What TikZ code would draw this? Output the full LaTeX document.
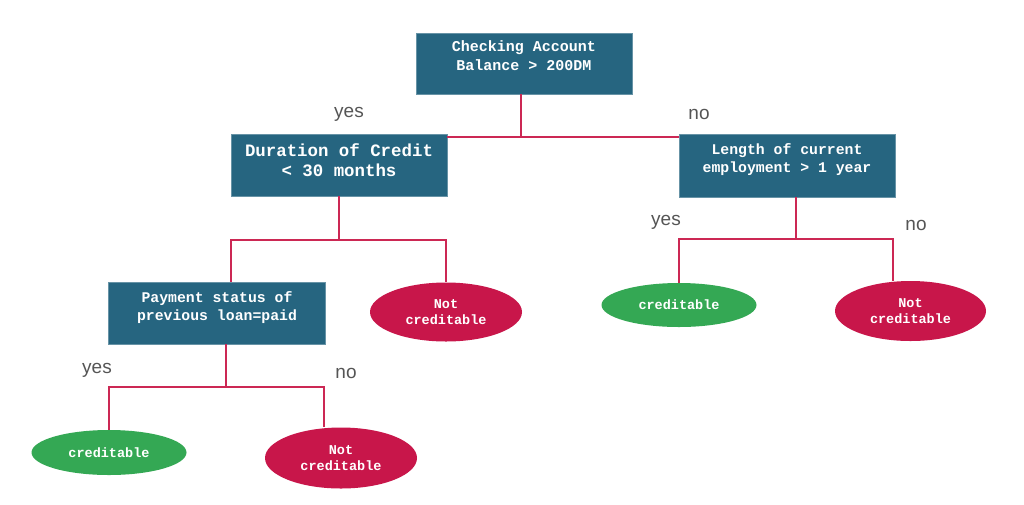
\documentclass[tikz,border=0pt]{standalone}
\usepackage{fontspec}
\setmainfont{Liberation Sans}
\setmonofont{Liberation Mono}
\usetikzlibrary{shapes.geometric}
\definecolor{boxteal}{RGB}{38,101,128}
\definecolor{leafred}{RGB}{200,22,74}
\definecolor{linered}{RGB}{204,40,84}
\definecolor{leafgreen}{RGB}{52,168,84}
\definecolor{labelgray}{RGB}{85,85,85}
\newcommand{\liftlines}[2]{\raisebox{#1}[\height][\depth]{\begin{tabular}{@{}c@{}}#2\end{tabular}}}
\tikzset{
  decision/.style={rectangle, fill=boxteal, draw=boxteal!70!white, line width=0.6pt, text=white, align=center, inner sep=0pt, font=\ttfamily\bfseries},
  leafno/.style={ellipse, fill=leafred, text=white, align=center, inner sep=0pt, font=\ttfamily\bfseries\fontsize{13.5}{16}\selectfont},
  leafyes/.style={ellipse, fill=leafgreen, text=white, align=center, inner sep=0pt, font=\ttfamily\bfseries\fontsize{13.5}{16}\selectfont},
  conn/.style={draw=linered, line width=2.2pt},
  branch/.style={text=labelgray, font=\fontsize{19}{22}\selectfont, inner sep=0pt}
}
\begin{document}
\begin{tikzpicture}[x=1pt,y=-1pt]
\fill[white] (0,0) rectangle (1024,504);
\useasboundingbox (0,0) rectangle (1024,504);

% junction points
\coordinate (j1) at (521,137);
\coordinate (jl1) at (447,137);
\coordinate (jr1) at (679,137);
\coordinate (j2) at (339,240);
\coordinate (jl2) at (231,240);
\coordinate (jr2) at (446,240);
\coordinate (j3) at (226,387);
\coordinate (jl3) at (109,387);
\coordinate (jr3) at (324,387);
\coordinate (j4) at (796,239);
\coordinate (jl4) at (679,239);
\coordinate (jr4) at (893,239);

% nodes
\node[decision, minimum width=216pt, minimum height=61pt, font=\ttfamily\bfseries\fontsize{15}{18.5}\selectfont] (root) at (524,63.5) {\liftlines{6pt}{Checking Account\\Balance > 200DM}};
\node[decision, minimum width=216pt, minimum height=62pt, font=\ttfamily\bfseries\fontsize{17.4}{20.7}\selectfont] (dur) at (339,165) {\liftlines{2.5pt}{Duration of Credit\\< 30 months}};
\node[decision, minimum width=216pt, minimum height=63pt, font=\ttfamily\bfseries\fontsize{14.8}{17.5}\selectfont] (len) at (787,165.5) {\liftlines{5.5pt}{Length of current\\employment > 1 year}};
\node[decision, minimum width=217pt, minimum height=62pt, font=\ttfamily\bfseries\fontsize{14.8}{18.2}\selectfont] (pay) at (217,313) {\liftlines{5.5pt}{Payment status of\\previous loan=paid}};
\node[leafno, minimum width=152pt, minimum height=59pt] (nc1) at (446,312) {Not\\creditable};
\node[leafyes, minimum width=155pt, minimum height=44pt] (crr) at (679,305) {creditable};
\node[leafno, minimum width=151pt, minimum height=60pt] (ncr) at (910.5,311) {Not\\creditable};
\node[leafyes, minimum width=155pt, minimum height=45pt] (crb) at (109,452.5) {creditable};
\node[leafno, minimum width=152pt, minimum height=61pt] (ncb) at (341,458) {Not\\creditable};

% connectors
\draw[conn] (root.south -| j1) -- (j1);
\draw[conn] (dur.east |- jl1) -- (len.west |- jr1);

\draw[conn] (dur.south) -- (j2);
\draw[conn] (jl2 |- pay.north) -- (jl2) -- (jr2) -- (nc1.north);

\draw[conn] (pay.south -| j3) -- (j3);
\draw[conn] (crb.north) -- (jl3) -- (jr3) -- (jr3 |- ncb.north);

\draw[conn] (len.south -| j4) -- (j4);
\draw[conn] (crr.north) -- (jl4) -- (jr4) -- (jr4 |- ncr.north);

% branch labels
\node[branch] (y1) at (349,114) {yes};
\node[branch] (n1) at (699,114) {no};
\node[branch] (y2) at (666,222) {yes};
\node[branch] (n2) at (916,225) {no};
\node[branch] (y3) at (97,370) {yes};
\node[branch] (n3) at (346,373) {no};
\end{tikzpicture}
\end{document}
